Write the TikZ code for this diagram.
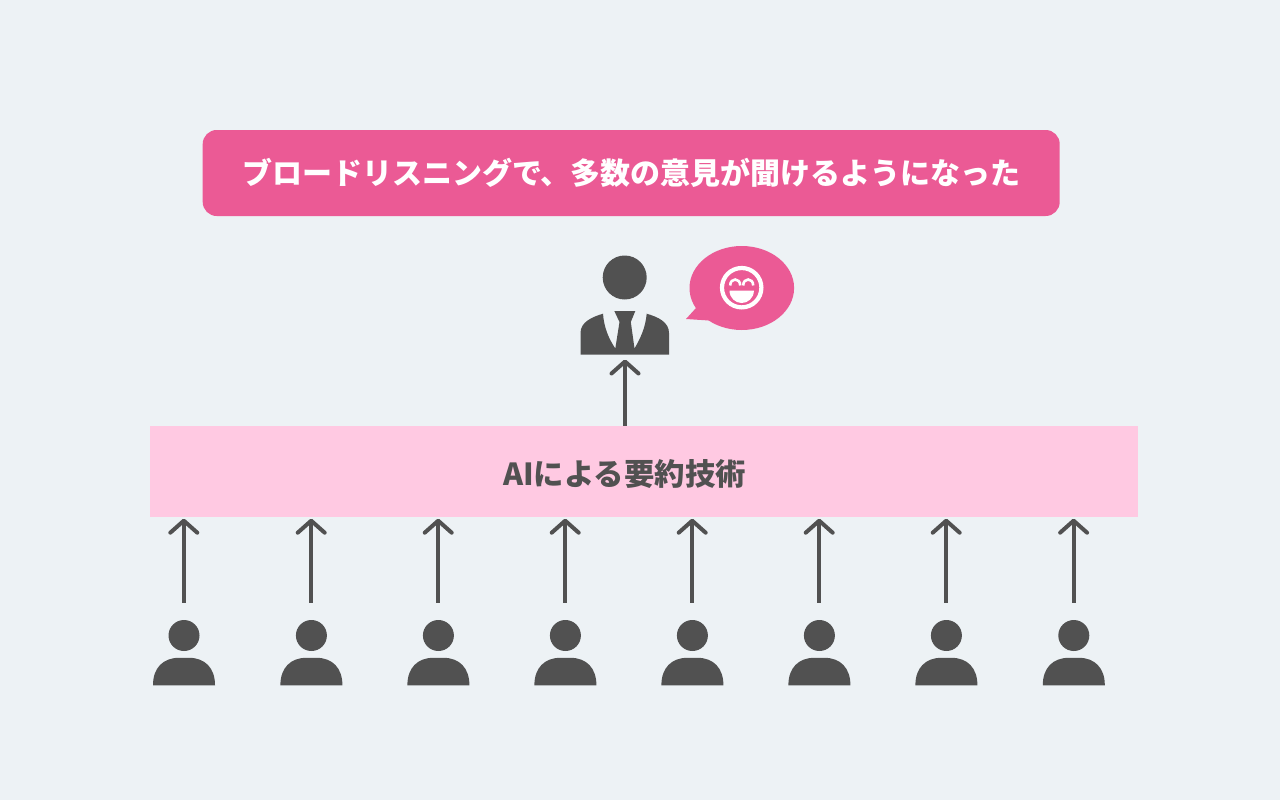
\documentclass[tikz,border=0pt]{standalone}
\usepackage{fontspec}
\newfontfamily\jpfont{Noto Sans CJK JP}
\usetikzlibrary{arrows.meta,shapes.geometric}
\definecolor{bgcolor}{HTML}{EDF2F5}
\definecolor{pinkcolor}{HTML}{EB5A95}
\definecolor{bandcolor}{HTML}{FFC9E2}
\definecolor{darkcolor}{HTML}{515151}
\tikzset{
    titlebox/.style={fill=pinkcolor, rounded corners=14pt, minimum width=857pt, minimum height=86pt, inner sep=0pt},
    bandbox/.style={fill=bandcolor, minimum width=988pt, minimum height=91pt, inner sep=0pt},
    headdot/.style={circle, fill=darkcolor, inner sep=0pt},
    upline/.style={draw=darkcolor, line width=4pt, -{Straight Barb[length=12pt, width=27pt, round]}},
}
\begin{document}
\begin{tikzpicture}[x=1pt, y=-1pt]
    \useasboundingbox[fill=bgcolor] (0,0) rectangle (1280,800);
    % title
    \node[titlebox] (title) at (631.2,173) {};
    \node[text=white, font=\jpfont\bfseries\fontsize{30pt}{32pt}\selectfont] (titletext) at (631.5,173) {ブロードリスニングで、多数の意見が聞けるようになった};
    % band
    \node[bandbox] (band) at (644,471.5) {};
    \node[text=darkcolor, font=\jpfont\bfseries\fontsize{30.4pt}{32pt}\selectfont] (bandtext) at (624.5,474) {AIによる要約技術};
    % listener
    \node[headdot, minimum size=44pt] (boss) at (624.7,277.5) {};
    \fill[darkcolor] (580.5,354.7) -- (580.5,333) .. controls (580.5,322) and (592,317) .. (603,313.7)
        .. controls (604,328) and (609,339) .. (615.3,348.5) -- (619.5,322) -- (614.3,311) -- (635.3,311)
        -- (630.8,322) -- (634.5,348.5) .. controls (640,339) and (645.5,328) .. (646.7,313.7)
        .. controls (658,317) and (669,322) .. (669,333) -- (669,354.7) -- cycle;
    \coordinate (bossfoot) at (625,358.5);
    \draw[upline, shorten >=1pt] (band.north -| bossfoot) -- (bossfoot);
    % speech bubble
    \node[ellipse, fill=pinkcolor, minimum width=104.6pt, minimum height=84pt, inner sep=0pt] (bubble) at (741.8,288) {};
    \fill[pinkcolor] (696,308) -- (686,319) -- (709,320.5) -- cycle;
    % smile
    \node[circle, draw=white, line width=4.2pt, minimum size=39.4pt, inner sep=0pt] (smile) at (741.7,287.7) {};
    \fill[white] (729.5,290.5) -- (753.9,290.5) .. controls (753.9,298) and (748,303) .. (741.7,303)
        .. controls (735.4,303) and (729.5,298) .. (729.5,290.5) -- cycle;
    \draw[white, line width=2.6pt] (730.2,285.5) .. controls (730.2,277.5) and (740.2,277.5) .. (740.2,285.5);
    \draw[white, line width=2.6pt] (743.2,285.5) .. controls (743.2,277.5) and (753.2,277.5) .. (753.2,285.5);
    % speakers
    \foreach \i/\x in {1/184,2/311.4,3/438.4,4/565.4,5/692.4,6/819.4,7/946.4,8/1073.8}{
        \node[headdot, minimum size=31pt] (head\i) at (\x,635.5) {};
        \fill[darkcolor, shift={(\x,0)}] (-31,685.3) -- (-31,685) .. controls (-31,668) and (-21,657.8) .. (-5,657.8)
            -- (5,657.8) .. controls (21,657.8) and (31,668) .. (31,685) -- (31,685.3) -- cycle;
        \draw[upline, shorten <=17pt, shorten >=1.5pt] ([xshift=-0.2pt]head\i.north) -- ([xshift=-0.2pt]head\i.north |- band.south);
    }
\end{tikzpicture}
\end{document}
